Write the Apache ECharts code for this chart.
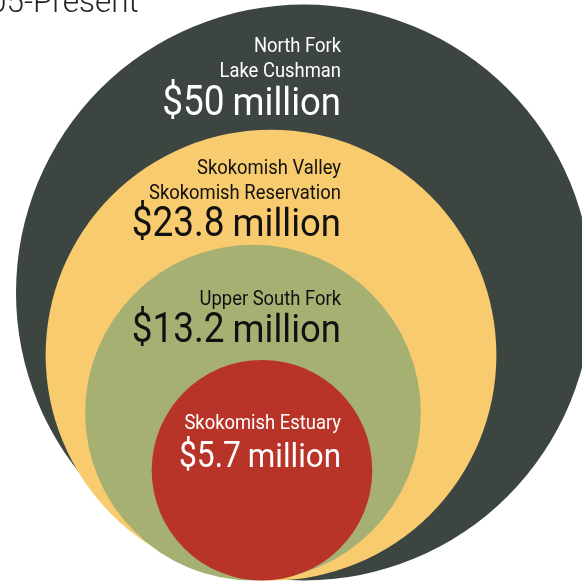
<!DOCTYPE html>
<html>
<head>
<meta charset="utf-8">
<script src="https://cdn.jsdelivr.net/npm/echarts@6/dist/echarts.min.js"></script>
<style>
  html, body { margin: 0; padding: 0; background: #ffffff; }
  #chart { width: 582px; height: 582px; }
</style>
</head>
<body>
<div id="chart"></div>
<script>
// Cumulative spending by area, in millions of dollars (outer ring includes inner ones)
const titleText = '05-Present';
const ringNames = [
  ['North Fork', 'Lake Cushman'],
  ['Skokomish Valley', 'Skokomish Reservation'],
  ['Upper South Fork'],
  ['Skokomish Estuary']
];
const ringValues = [50, 23.8, 13.2, 5.7];

// ---- layout & style ----
const RING_COLORS = ['#3c4540', '#f8cb6f', '#a7b073', '#b83428'];
const TEXT_COLORS = ['#ffffff', '#111111', '#111111', '#ffffff'];
const K = 46.2;          // radius per sqrt(million)
const R_MAX = 288;       // outer ring is capped to the frame height
const BASE = 580.5;      // rings sit on a common bottom line
const CX = 262;
const NUDGE = [42, 9, -9, 0];
const DROP = [110.5, 107, 98, 107];   // ring top -> amount baseline
const AMT_SCALE = [1, 1, 1, 0.86];    // the smallest ring gets a smaller amount line
const TEXT_RIGHT = 341;
const FONT = 'Roboto, "Noto Sans", sans-serif';
const NAME_SIZE = 20, AMT_SIZE = 43, UNIT_SIZE = 38;
const NAME_SX = 0.92, AMT_SX = 0.86, UNIT_SX = 0.96;
const UNIT_GAP = 8;

const measureCtx = document.createElement('canvas').getContext('2d');
function textWidth(str, size) {
  measureCtx.font = size + 'px ' + FONT;
  return measureCtx.measureText(str).width;
}
function radiusOf(v) {
  return Math.min(K * Math.sqrt(v), R_MAX);
}
// y of a text element (middle-aligned) whose alphabetic baseline sits at `base`
function midY(base, size) { return base - 0.26 * size; }

function renderRing(params, api) {
  const i = params.dataIndex;
  const v = api.value(1);
  const r = radiusOf(v);
  const cx = CX + NUDGE[i];
  const cy = BASE - r;
  const c = api.coord([cx, cy]);
  const rp = api.size([r, r])[0];
  const top = cy - r;
  const amtBase = api.coord([0, top + DROP[i]])[1];
  const right = api.coord([TEXT_RIGHT, 0])[0];
  const fill = TEXT_COLORS[i];
  const s = AMT_SCALE[i];

  const children = [{
    type: 'circle',
    shape: { cx: c[0], cy: c[1], r: rp },
    style: { fill: RING_COLORS[i] }
  }];

  const names = ringNames[i];
  names.forEach((line, j) => {
    const base = amtBase - 38 - 25 * (names.length - 1 - j);
    children.push({
      type: 'text',
      x: right, y: midY(base, NAME_SIZE), scaleX: NAME_SX,
      style: { text: line, x: 0, y: 0, align: 'right', verticalAlign: 'middle',
               font: NAME_SIZE + 'px ' + FONT, fill: fill }
    });
  });

  const unit = 'million';
  const unitSize = UNIT_SIZE * s;
  const amtSize = AMT_SIZE * s;
  const unitW = textWidth(unit, unitSize) * UNIT_SX;
  children.push({
    type: 'text',
    x: right, y: midY(amtBase, unitSize), scaleX: UNIT_SX,
    style: { text: unit, x: 0, y: 0, align: 'right', verticalAlign: 'middle',
             font: unitSize + 'px ' + FONT, fill: fill }
  });
  children.push({
    type: 'text',
    x: right - unitW - UNIT_GAP * s, y: midY(amtBase, amtSize), scaleX: AMT_SX,
    style: { text: '$' + v, x: 0, y: 0, align: 'right', verticalAlign: 'middle',
             font: amtSize + 'px ' + FONT, fill: fill }
  });

  return { type: 'group', children: children };
}

const chart = echarts.init(document.getElementById('chart'), null, { renderer: 'canvas' });
chart.setOption({
  animation: false,
  grid: { left: 0, right: 0, top: 0, bottom: 0 },
  xAxis: { type: 'value', min: 0, max: 582, show: false },
  yAxis: { type: 'value', min: 0, max: 582, inverse: true, show: false },
  graphic: [{
    type: 'text',
    x: -11, y: midY(12.5, 31.5),
    style: { text: titleText, verticalAlign: 'middle',
             font: '300 31.5px ' + FONT, fill: '#222222' }
  }],
  series: [{
    type: 'custom',
    coordinateSystem: 'cartesian2d',
    clip: false,
    silent: true,
    encode: { x: 0, y: 1 },
    data: ringValues.map((v, i) => [i, v]),
    renderItem: renderRing
  }]
});
</script>
</body>
</html>
